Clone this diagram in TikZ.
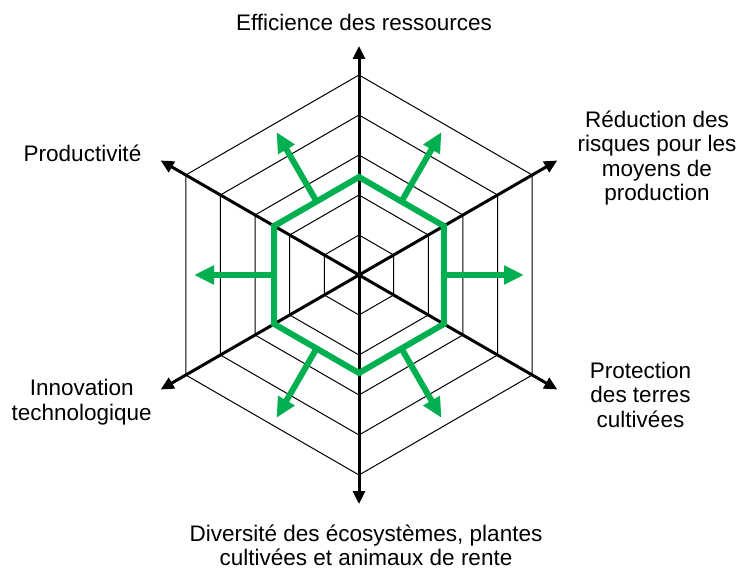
\documentclass[tikz,border=0pt]{standalone}
\usepackage{fontspec}
\setmainfont{Liberation Sans}
\usetikzlibrary{arrows.meta}
\definecolor{pptgreen}{RGB}{0,176,80}
\begin{document}
\begin{tikzpicture}[x=1pt,y=1pt,
  ring/.style={line width=1pt, black},
  axis/.style={line width=3pt, black, -{Triangle[length=13pt,width=12pt]}},
  gline/.style={line width=6pt, pptgreen, line join=miter},
  garrow/.style={line width=6pt, pptgreen, -{Triangle[length=20pt,width=18pt]}},
  lbl/.style={font=\fontsize{22.5}{24.5}\selectfont, align=center, anchor=base, inner sep=0pt}]
\useasboundingbox (0,0) rectangle (738,568);
\coordinate (O) at (359,293);
% rings
\foreach \r in {40,80,120,160,200} {
  \draw[ring, shift={(O)}] (90:\r) -- (30:\r) -- (-30:\r) -- (-90:\r) -- (-150:\r) -- (150:\r) -- cycle;
}
% axis end points and green arrow coordinates
\begin{scope}[shift={(O)}]
  \foreach \a/\n in {90/aN,30/aNE,-30/aSE,-90/aS,-150/aSW,150/aNW} {
    \coordinate (\n) at (\a:229);
  }
  \foreach \a/\n in {0/gE,60/gNE,120/gNW,180/gW,240/gSW,300/gSE} {
    \coordinate (\n s) at (\a:85);
    \coordinate (\n t) at (\a:165);
  }
\end{scope}
% axes
\foreach \n in {aN,aNE,aSE,aS,aSW,aNW} {
  \draw[axis] (O) -- (\n);
}
% green hexagon
\draw[gline, shift={(O)}] (90:98) -- (30:98) -- (-30:98) -- (-90:98) -- (-150:98) -- (150:98) -- cycle;
% green arrows
\foreach \n in {gE,gNE,gNW,gW,gSW,gSE} {
  \draw[garrow] (\n s) -- (\n t);
}
% labels (base anchor = baseline of the last line)
\node[lbl] (lN) at (364,537) {Efficience des ressources};
\node[lbl] (lNE) at (657,367) {Réduction des\\risques pour les\\moyens de\\production};
\node[lbl] (lNW) at (82.5,406.3) {Productivité};
\node[lbl] (lSW) at (81.7,148) {Innovation\\technologique};
\node[lbl] (lSE) at (640.5,141) {Protection\\des terres\\cultivées};
\node[lbl] (lS) at (366,2.5) {Diversité des écosystèmes, plantes\\cultivées et animaux de rente};
\end{tikzpicture}
\end{document}
